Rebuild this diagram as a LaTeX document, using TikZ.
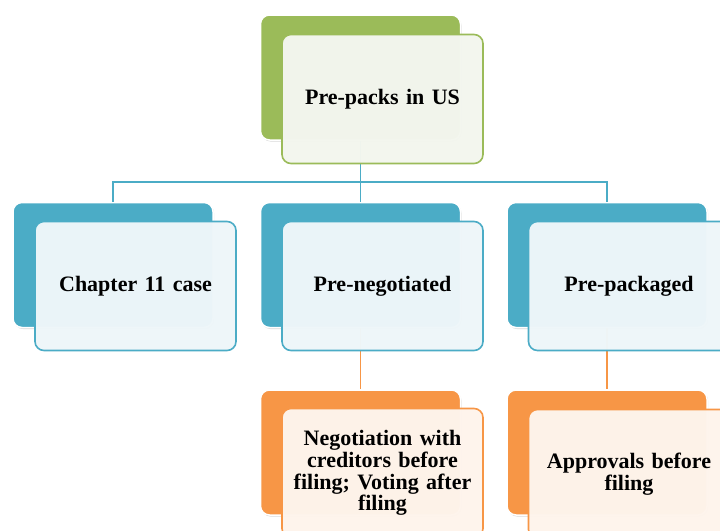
\documentclass[tikz,border=0pt]{standalone}
\usepackage{fontspec}
\setmainfont{Liberation Serif}
\usetikzlibrary{shadows}
\definecolor{cgreen}{HTML}{9BBB59}
\definecolor{cblue}{HTML}{4BACC6}
\definecolor{corange}{HTML}{F79646}
\definecolor{tgreen}{HTML}{F3F6EE}
\definecolor{tblue}{HTML}{EEF6F9}
\definecolor{torange}{HTML}{FEF4EC}
\begin{document}
\begin{tikzpicture}[x=1pt,y=-1pt,
  backbox/.style={draw=white, line width=1.5pt, rounded corners=9pt,
    minimum width=200pt, minimum height=125pt, inner sep=0pt,
    drop shadow={shadow xshift=1pt,shadow yshift=-1.5pt,opacity=0.3}},
  frontbox/.style={line width=1.6pt, rounded corners=9pt,
    minimum width=201pt, minimum height=129pt, inner sep=0pt,
    fill opacity=0.98, text opacity=1,
    font=\bfseries\fontsize{22}{21.7}\selectfont, align=center, text width=190pt},
  link/.style={line width=1.8pt}]
\useasboundingbox (0,0) rectangle (720,530);
\clip (0,0) rectangle (720,530);
\fill[white] (0,0) rectangle (720,530);
% back boxes
\node[backbox, fill=cgreen] (top) at (360.5,77.5) {};
\node[backbox, fill=cblue] (c1) at (113,265) {};
\node[backbox, fill=cblue] (c2) at (360.5,265) {};
\node[backbox, fill=cblue] (c3) at (607,265) {};
\node[backbox, fill=corange] (d2) at (360.5,452.5) {};
\node[backbox, fill=corange] (d3) at (607,452.5) {};
% connectors
\coordinate (hub) at (360.5,182);
\draw[link, cblue] (top.south) -- (hub);
\draw[link, cblue] (hub) -| (c1.north);
\draw[link, cblue] (hub) -| (c3.north);
\draw[link, cblue] (hub) -- (c2.north);
\draw[link, corange] (c2.south) -- (d2.north);
\draw[link, corange] (c3.south) -- (d3.north);
% front boxes
\node[frontbox, draw=cgreen, fill=tgreen] (ftop) at (382.5,99) {Pre-packs in US};
\node[frontbox, draw=cblue, fill=tblue] (fc1) at (135.5,286) {Chapter 11 case};
\node[frontbox, draw=cblue, fill=tblue] (fc2) at (382.5,286) {Pre-negotiated};
\node[frontbox, draw=cblue, fill=tblue] (fc3) at (629,286) {Pre-packaged};
\node[frontbox, draw=corange, fill=torange] (fd2) at (382.5,473) {Negotiation with\\creditors before\\filing; Voting after\\filing};
\node[frontbox, draw=corange, fill=torange] (fd3) at (629,474) {Approvals before\\filing};
\end{tikzpicture}
\end{document}
